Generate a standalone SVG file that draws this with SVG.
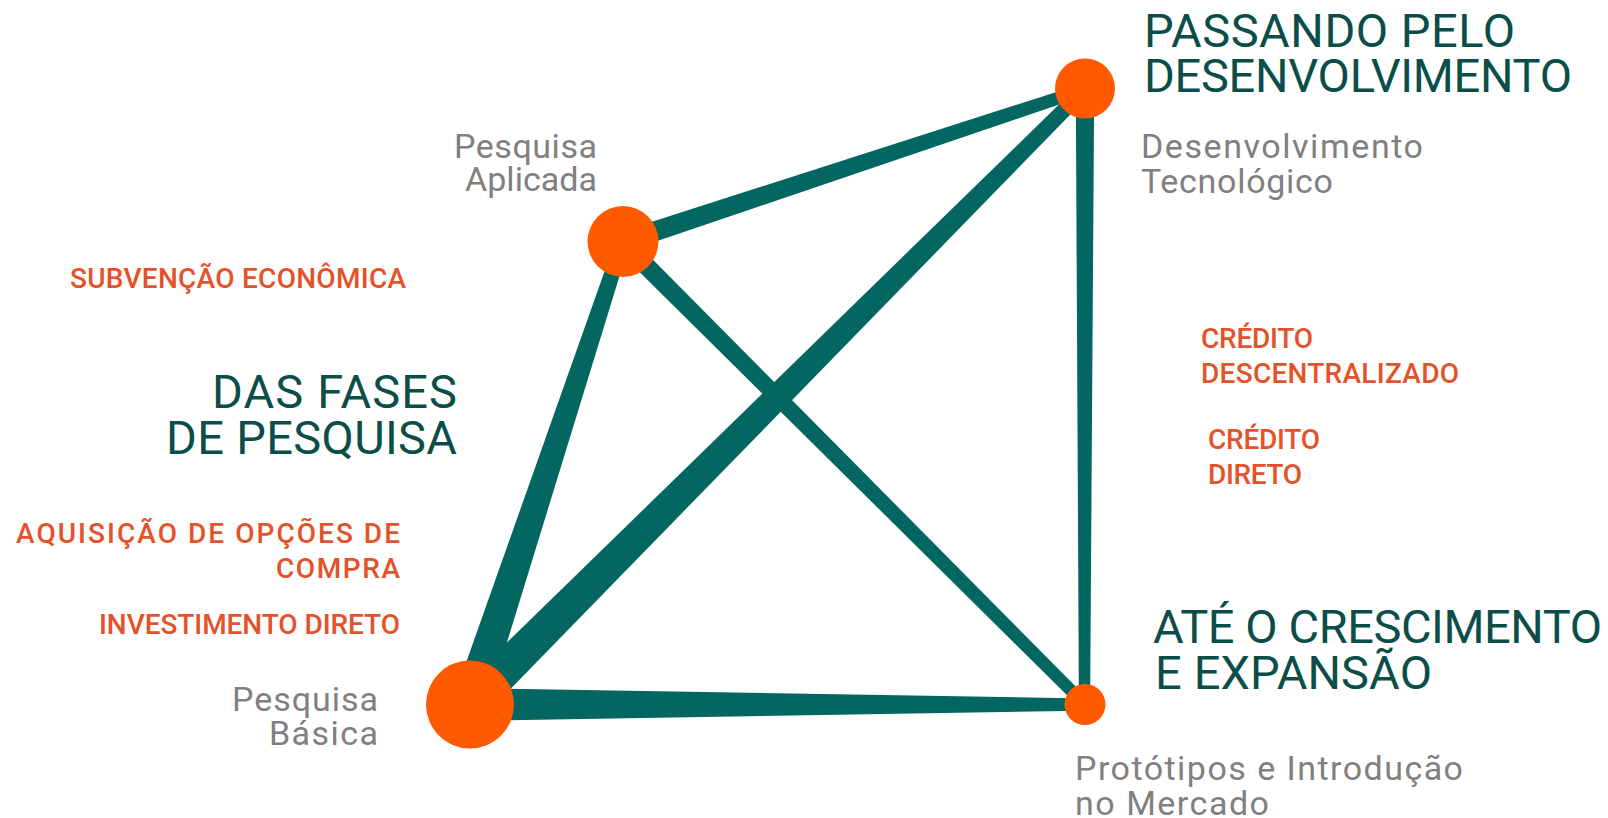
<svg xmlns="http://www.w3.org/2000/svg" width="1608" height="818" viewBox="0 0 1608 818">
<style>
.edge{fill:#036661}
.node{fill:#FF5A00}
.h{font-family:Roboto,"Liberation Sans",sans-serif;font-size:47px;font-weight:400;fill:#0A4D49}
.g{font-family:Roboto,"Liberation Sans",sans-serif;font-size:34px;font-weight:400;fill:#808080}
.o{font-family:Roboto,"Liberation Sans",sans-serif;font-size:28px;font-weight:500;fill:#E4522A}
.r{text-anchor:end}
</style>
<rect width="1608" height="818" fill="#ffffff"/>
<g id="connectors">
<polygon class="edge" points="469.7,720.9 1085,710.7 1085,698.4 469.7,688.1"/>
<polygon class="edge" points="482.7,717.5 1090.1,94.3 1079.9,84.1 456.7,691.5"/>
<polygon class="edge" points="486.2,710 629.3,244.3 615.7,239.8 453.2,699.1"/>
<polygon class="edge" points="625.7,251.8 1086.9,95.1 1083,83.4 619.3,232.3"/>
<polygon class="edge" points="615.9,248.6 1080.7,708.8 1089.3,700.2 629,235.5"/>
<polygon class="edge" points="1075.8,89.2 1078.9,704.5 1090.1,704.5 1094.2,89.2"/>
</g>
<g id="node-pesquisa-basica">
<circle class="node" cx="470" cy="704.5" r="44"/>
<text class="g r" x="378" y="711" textLength="146" lengthAdjust="spacing">Pesquisa</text>
<text class="g r" x="378" y="745" textLength="109" lengthAdjust="spacing">Básica</text>
</g>
<g id="node-pesquisa-aplicada">
<circle class="node" cx="623" cy="241.5" r="35.5"/>
<text class="g r" x="597" y="158" textLength="143" lengthAdjust="spacing">Pesquisa</text>
<text class="g r" x="597" y="191" textLength="132" lengthAdjust="spacing">Aplicada</text>
</g>
<g id="node-desenvolvimento">
<circle class="node" cx="1085" cy="88.5" r="30"/>
<text class="g" x="1141" y="158" textLength="282" lengthAdjust="spacing">Desenvolvimento</text>
<text class="g" x="1141" y="193" textLength="192" lengthAdjust="spacing">Tecnológico</text>
</g>
<g id="node-prototipos">
<circle class="node" cx="1085" cy="704.5" r="20.5"/>
<text class="g" x="1075" y="780" textLength="388" lengthAdjust="spacing">Protótipos e Introdução</text>
<text class="g" x="1075" y="815" textLength="194" lengthAdjust="spacing">no Mercado</text>
</g>
<g id="headings">
<text class="h" x="1144" y="47" textLength="371" lengthAdjust="spacing">PASSANDO PELO</text>
<text class="h" x="1144" y="92" textLength="428" lengthAdjust="spacing">DESENVOLVIMENTO</text>
<text class="h r" x="457" y="408" textLength="245" lengthAdjust="spacing">DAS FASES</text>
<text class="h r" x="457" y="454" textLength="291" lengthAdjust="spacing">DE PESQUISA</text>
<text class="h" x="1153" y="643" textLength="449" lengthAdjust="spacing">ATÉ O CRESCIMENTO</text>
<text class="h" x="1155" y="689" textLength="277" lengthAdjust="spacing">E EXPANSÃO</text>
</g>
<g id="instruments">
<text class="o" x="70" y="288" textLength="336" lengthAdjust="spacing">SUBVENÇÃO ECONÔMICA</text>
<text class="o r" x="400" y="543" textLength="384" lengthAdjust="spacing">AQUISIÇÃO DE OPÇÕES DE</text>
<text class="o r" x="400" y="578" textLength="124" lengthAdjust="spacing">COMPRA</text>
<text class="o r" x="400" y="634" textLength="301" lengthAdjust="spacing">INVESTIMENTO DIRETO</text>
<text class="o" x="1201" y="348" textLength="112" lengthAdjust="spacing">CRÉDITO</text>
<text class="o" x="1201" y="383" textLength="258" lengthAdjust="spacing">DESCENTRALIZADO</text>
<text class="o" x="1208" y="449" textLength="112" lengthAdjust="spacing">CRÉDITO</text>
<text class="o" x="1208" y="484" textLength="94" lengthAdjust="spacing">DIRETO</text>
</g>
</svg>
